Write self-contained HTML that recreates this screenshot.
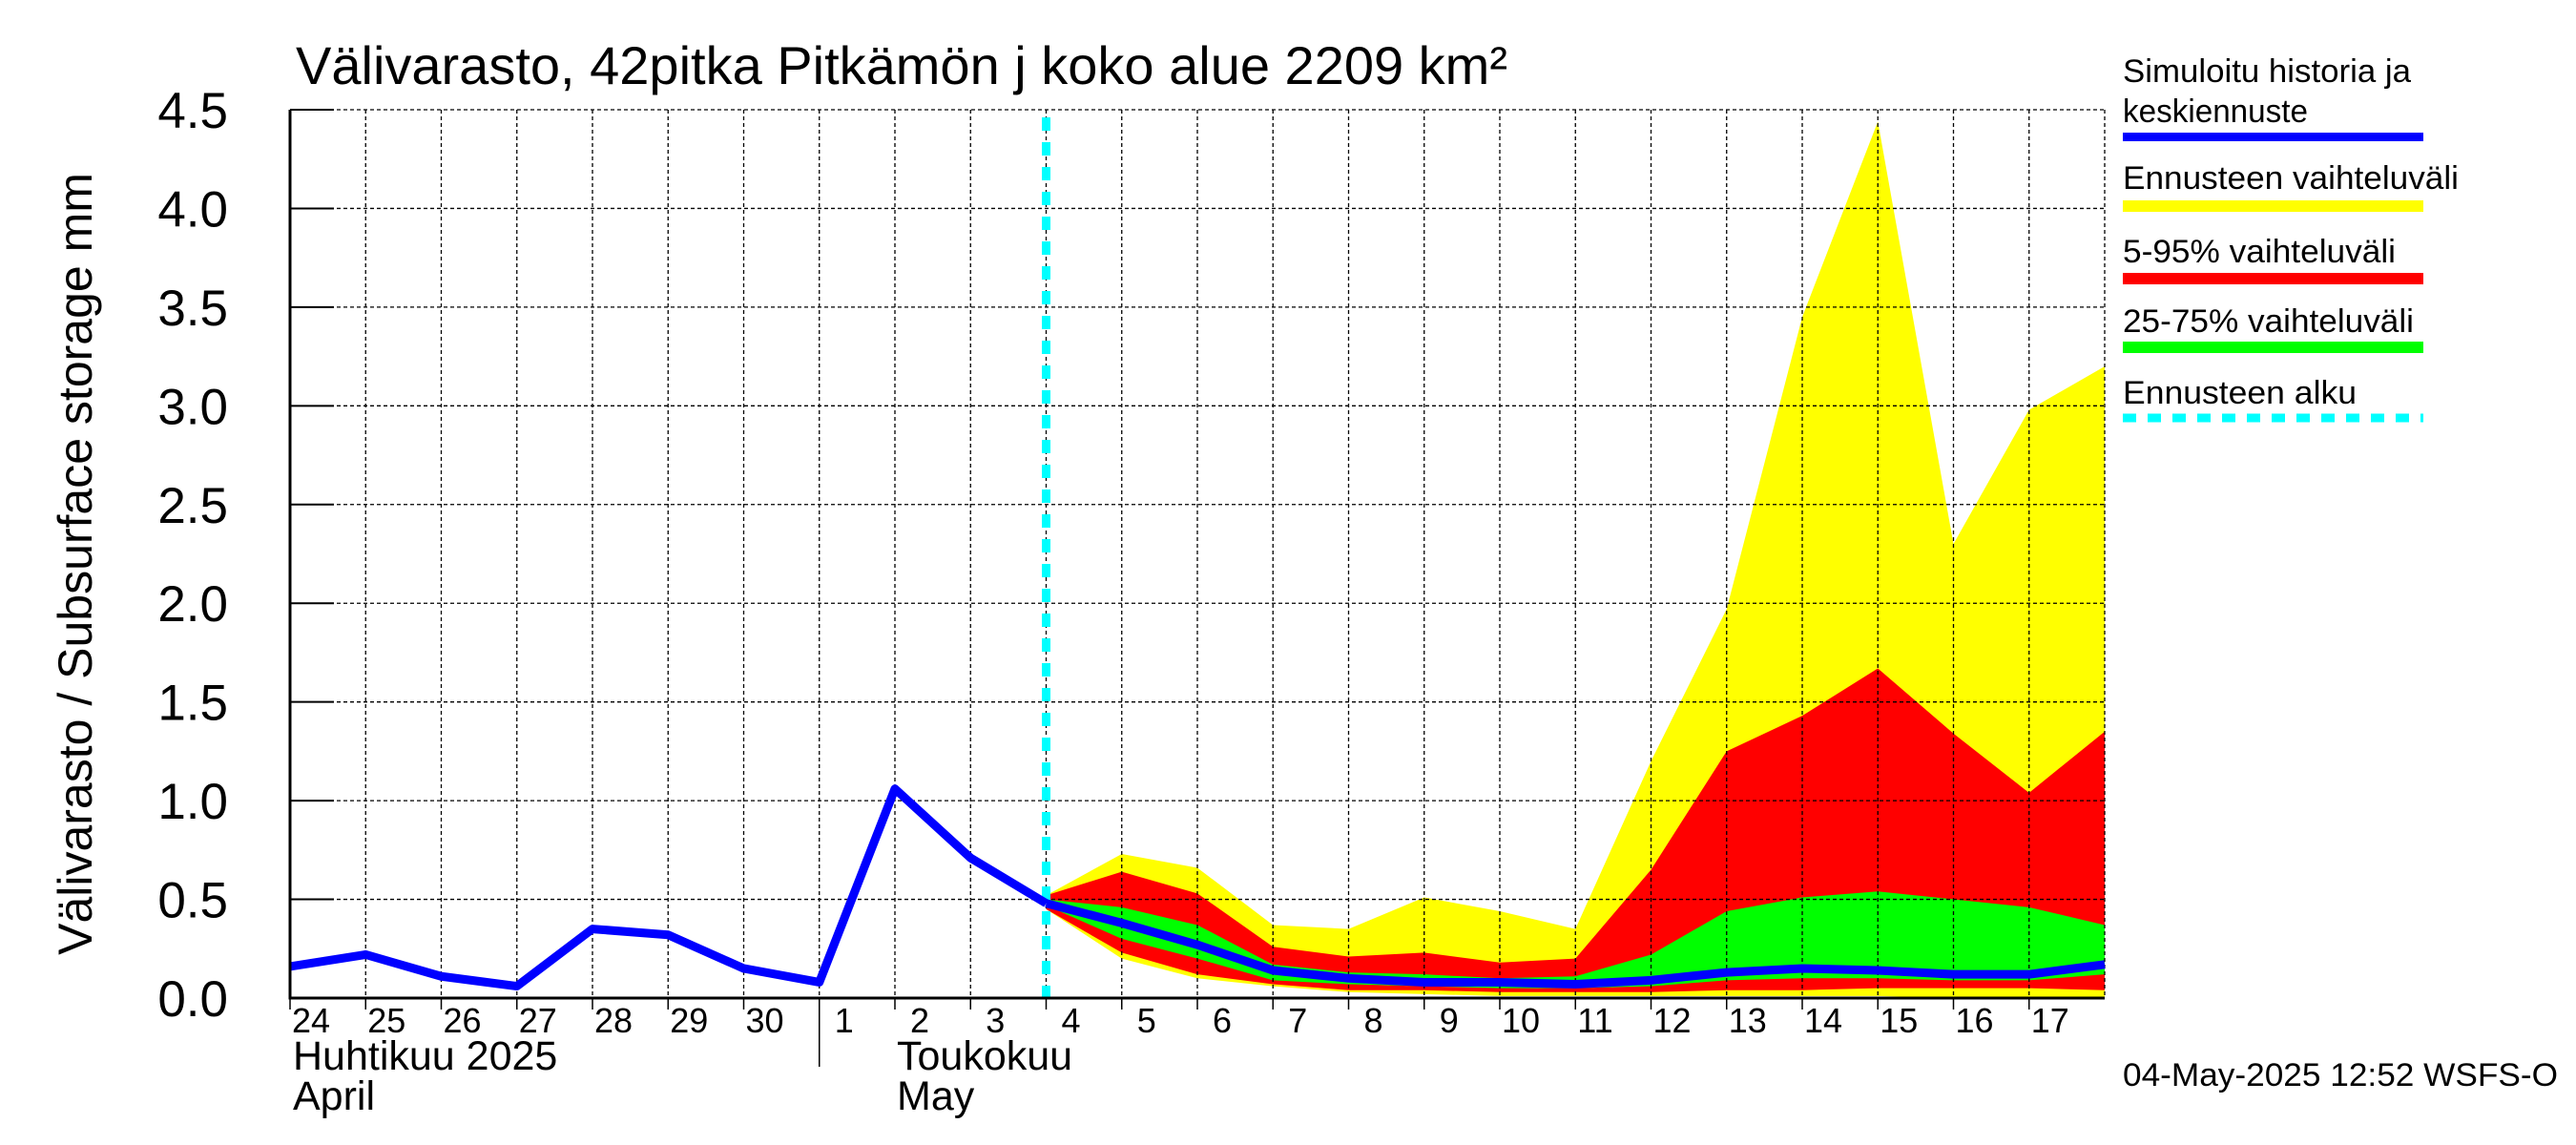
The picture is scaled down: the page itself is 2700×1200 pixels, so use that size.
<!DOCTYPE html>
<html><head><meta charset="utf-8"><style>
html,body{margin:0;padding:0;background:#fff;}
svg{display:block;font-family:"Liberation Sans",sans-serif;}
</style></head><body>
<svg id="c" width="2700" height="1200" viewBox="0 0 2700 1200" xmlns="http://www.w3.org/2000/svg">
<text x="310" y="88" font-size="56">Välivarasto, 42pitka Pitkämön j koko alue 2209 km²</text>
<text transform="translate(96,591) rotate(-90)" text-anchor="middle" font-size="50">Välivarasto / Subsurface storage  mm</text>
<g id="plot"></g>
<g>
<text x="2225" y="86" font-size="34" textLength="302" lengthAdjust="spacingAndGlyphs">Simuloitu historia ja</text>
<text x="2225" y="128" font-size="34" textLength="194" lengthAdjust="spacingAndGlyphs">keskiennuste</text>
<rect x="2225" y="139" width="315" height="9" fill="#0000ff"/>
<text x="2225" y="198" font-size="34" textLength="352" lengthAdjust="spacingAndGlyphs">Ennusteen vaihteluväli</text>
<rect x="2225" y="210" width="315" height="12" fill="#ffff00"/>
<text x="2225" y="275" font-size="34" textLength="286" lengthAdjust="spacingAndGlyphs">5-95% vaihteluväli</text>
<rect x="2225" y="286" width="315" height="12" fill="#ff0000"/>
<text x="2225" y="348" font-size="34" textLength="305" lengthAdjust="spacingAndGlyphs">25-75% vaihteluväli</text>
<rect x="2225" y="358" width="315" height="12" fill="#00ff00"/>
<text x="2225" y="423" font-size="34" textLength="245" lengthAdjust="spacingAndGlyphs">Ennusteen alku</text>
<line x1="2225" y1="438" x2="2540" y2="438" stroke="#00ffff" stroke-width="9" stroke-dasharray="14,12"/>
</g>
<text x="2225" y="1138" font-size="34" textLength="456" lengthAdjust="spacingAndGlyphs">04-May-2025 12:52 WSFS-O</text>
</svg>
<script>
const dayLabels=["24","25","26","27","28","29","30","1","2","3","4","5","6","7","8","9","10","11","12","13","14","15","16","17"];
const yTicks=[0,0.5,1,1.5,2,2.5,3,3.5,4,4.5];
const histVals=[0.16,0.22,0.11,0.06,0.35,0.32,0.15,0.08,1.06,0.71,0.48];
const fcStart=10;
const median=[0.48,0.38,0.27,0.14,0.10,0.08,0.08,0.07,0.09,0.13,0.15,0.14,0.12,0.12,0.17];
const yelMax=[0.52,0.73,0.66,0.37,0.35,0.51,0.44,0.35,1.20,1.97,3.45,4.44,2.30,2.98,3.20];
const yelMin=[0.45,0.20,0.10,0.06,0.03,0.02,0.01,0.01,0.01,0.01,0.01,0.01,0.00,0.00,0.00];
const redMax=[0.52,0.64,0.53,0.26,0.21,0.23,0.18,0.20,0.65,1.25,1.43,1.67,1.34,1.04,1.35];
const redMin=[0.45,0.23,0.12,0.07,0.04,0.04,0.03,0.03,0.03,0.04,0.04,0.05,0.05,0.05,0.04];
const grnMax=[0.50,0.46,0.37,0.17,0.13,0.12,0.10,0.11,0.22,0.44,0.51,0.54,0.50,0.46,0.37];
const grnMin=[0.47,0.30,0.20,0.09,0.07,0.06,0.05,0.05,0.06,0.09,0.10,0.10,0.09,0.09,0.12];

const L=304,R=2206,T=115,B=1046,ND=24;
const xS=i=>L+(R-L)*i/ND;
const yS=v=>B-(B-T)*v/4.5;
const NS="http://www.w3.org/2000/svg";
const g=document.getElementById('plot');
function mk(tag,at,parent){const e=document.createElementNS(NS,tag);for(const k in at)e.setAttribute(k,at[k]);(parent||g).appendChild(e);return e;}

function band(top,bot,color,name){
  let p=top.map((v,i)=>xS(fcStart+i)+','+yS(v));
  for(let i=bot.length-1;i>=0;i--)p.push(xS(fcStart+i)+','+yS(bot[i]));
  const e=mk('polygon',{points:p.join(' '),fill:color});
  
  
}
band(yelMax,yelMin,'#ffff00','band-range');
band(redMax,redMin,'#ff0000','band-5-95');
band(grnMax,grnMin,'#00ff00','band-25-75');

yTicks.forEach((v,i)=>{
  if(i>0){const l=mk('line',{x1:L,x2:R,y1:yS(v),y2:yS(v),stroke:'#000','stroke-width':1.3,'stroke-dasharray':'4,3'});
  
  
  const tk=mk('line',{x1:L,x2:L+46,y1:yS(v),y2:yS(v),stroke:'#000','stroke-width':2});
  
  }
  const t=mk('text',{x:239,y:yS(v)+19,'text-anchor':'end','font-size':53});
  t.textContent=v.toFixed(1);
  
  
});
for(let i=1;i<=ND;i++){
  const l=mk('line',{x1:xS(i),x2:xS(i),y1:T,y2:B,stroke:'#000','stroke-width':1.3,'stroke-dasharray':'4,3'});
  
  
}
for(let i=0;i<ND;i++){
  const tk=mk('line',{x1:xS(i),x2:xS(i),y1:B,y2:B+12,stroke:'#000','stroke-width':1.5});
  
  
  const t=mk('text',{x:xS(i)+(dayLabels[i].length>1?2:16),y:1082,'font-size':36});
  t.textContent=dayLabels[i];
  
  
}
const ms=mk('line',{x1:xS(7),x2:xS(7),y1:B,y2:1118,stroke:'#000','stroke-width':1.5});


[['Huhtikuu  2025',307,1121,'month-label-april-fi'],['April',307,1163,'month-label-april-en'],['Toukokuu',940,1121,'month-label-may-fi'],['May',940,1163,'month-label-may-en']].forEach(a=>{
  const t=mk('text',{x:a[1],y:a[2],'font-size':43,'xml:space':'preserve'});
  t.textContent=a[0];
  
  
});

const fs=mk('line',{x1:xS(fcStart),x2:xS(fcStart),y1:T+8,y2:B,stroke:'#00ffff','stroke-width':9,'stroke-dasharray':'14,12'});



const hl=mk('polyline',{points:histVals.map((v,i)=>xS(i)+','+yS(v)).join(' '),fill:'none',stroke:'#0000ff','stroke-width':9,'stroke-linejoin':'round'});


const ml=mk('polyline',{points:median.map((v,i)=>xS(fcStart+i)+','+yS(v)).join(' '),fill:'none',stroke:'#0000ff','stroke-width':9,'stroke-linejoin':'round'});



const ax=mk('polyline',{points:`${L},${T} ${L},${B} ${R},${B}`,fill:'none',stroke:'#000','stroke-width':3});


</script>
</body></html>
